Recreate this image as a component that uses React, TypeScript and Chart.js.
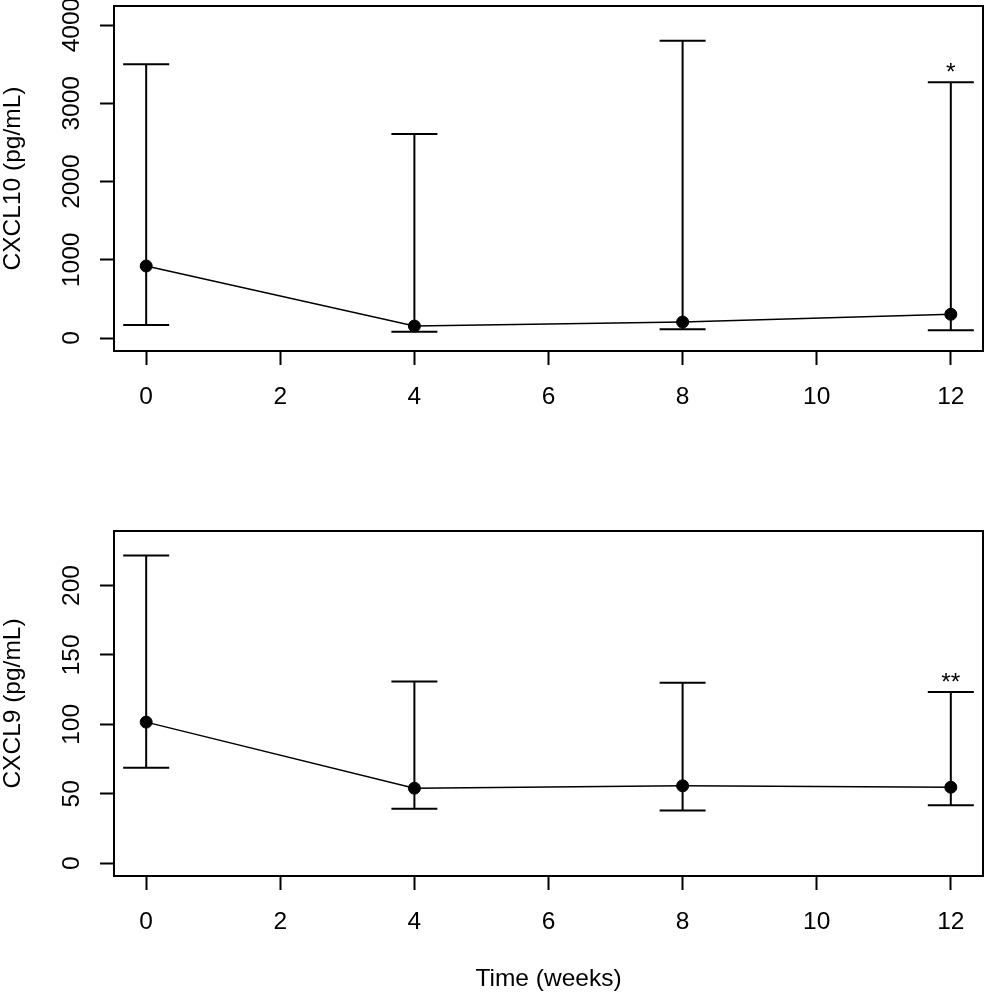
import React, { useEffect, useRef } from "react";
import { Chart, registerables } from "chart.js";

Chart.register(...registerables);

const weeks = [0, 4, 8, 12];
const xTickValues = [0, 2, 4, 6, 8, 10, 12];

const cxcl10Center = [920, 153, 204, 303];
const cxcl10Low = [166, 80, 111, 98];
const cxcl10High = [3498, 2607, 3799, 3267];
const cxcl10Marks = ["", "", "", "*"];
const cxcl10Ticks = [0, 1000, 2000, 3000, 4000];

const cxcl9Center = [101.6, 54.0, 55.7, 54.7];
const cxcl9Low = [68.7, 39.2, 38.0, 41.8];
const cxcl9High = [221.6, 130.9, 129.9, 123.2];
const cxcl9Marks = ["", "", "", "**"];
const cxcl9Ticks = [0, 50, 100, 150, 200];

const FONT = "'Liberation Sans', Arial, Helvetica, sans-serif";
const FS = 24.5;
const INK = "#000000";

const boxPlugin = {
  id: "rbox",
  afterDraw(chart: any) {
    const { ctx, chartArea } = chart;
    ctx.save();
    ctx.strokeStyle = INK;
    ctx.lineWidth = 2;
    ctx.strokeRect(chartArea.left, chartArea.top, chartArea.right - chartArea.left, chartArea.bottom - chartArea.top);
    ctx.restore();
  },
};

const yLabelPlugin = {
  id: "rylabels",
  afterDraw(chart: any, _args: any, opts: any) {
    const { ctx } = chart;
    const y = chart.scales.y;
    ctx.save();
    ctx.fillStyle = INK;
    ctx.font = `${FS}px ${FONT}`;
    ctx.textAlign = "center";
    ctx.textBaseline = "alphabetic";
    for (const t of y.ticks) {
      const py = y.getPixelForValue(t.value);
      ctx.save();
      ctx.translate(opts.x, py);
      ctx.rotate(-Math.PI / 2);
      ctx.fillText(String(t.value), 0, 0);
      ctx.restore();
    }
    ctx.restore();
  },
};

const errorBarPlugin = {
  id: "rerr",
  beforeDatasetsDraw(chart: any, _args: any, opts: any) {
    const { ctx } = chart;
    const xs = chart.scales.x;
    const ys = chart.scales.y;
    ctx.save();
    ctx.strokeStyle = INK;
    ctx.lineWidth = 2;
    const half = opts.cap;
    for (let i = 0; i < opts.x.length; i++) {
      const px = xs.getPixelForValue(opts.x[i]);
      const lo = ys.getPixelForValue(opts.low[i]);
      const hi = ys.getPixelForValue(opts.high[i]);
      ctx.beginPath();
      ctx.moveTo(px, lo);
      ctx.lineTo(px, hi);
      ctx.moveTo(px - half, lo);
      ctx.lineTo(px + half, lo);
      ctx.moveTo(px - half, hi);
      ctx.lineTo(px + half, hi);
      ctx.stroke();
    }
    ctx.restore();
  },
  afterDatasetsDraw(chart: any, _args: any, opts: any) {
    const { ctx } = chart;
    const xs = chart.scales.x;
    const ys = chart.scales.y;
    ctx.save();
    ctx.fillStyle = INK;
    ctx.font = `${FS}px ${FONT}`;
    ctx.textAlign = "center";
    ctx.textBaseline = "alphabetic";
    for (let i = 0; i < opts.x.length; i++) {
      if (!opts.marks[i]) continue;
      const px = xs.getPixelForValue(opts.x[i]);
      const hi = ys.getPixelForValue(opts.high[i]);
      ctx.fillText(opts.marks[i], px, hi + opts.markOffset);
    }
    ctx.restore();
  },
};

function makeConfig(p: {
  center: number[];
  low: number[];
  high: number[];
  marks: string[];
  yTicks: number[];
  yMin: number;
  yMax: number;
  yTitle: string;
  showXTitle: boolean;
  padTop: number;
  xAxisHeight: number;
}) {
  return {
    type: "line" as const,
    data: {
      datasets: [
        {
          data: weeks.map((w, i) => ({ x: w, y: p.center[i] })),
          borderColor: INK,
          borderWidth: 1.5,
          backgroundColor: INK,
          pointRadius: 6,
          pointBorderWidth: 1,
          pointBackgroundColor: INK,
          pointBorderColor: INK,
          tension: 0,
          fill: false,
        },
      ],
    },
    options: {
      animation: false,
      responsive: false,
      maintainAspectRatio: false,
      events: [],
      layout: { autoPadding: false, padding: { left: 0, top: p.padTop, right: 2, bottom: 0 } },
      plugins: {
        legend: { display: false },
        tooltip: { enabled: false },
        rylabels: { x: 79 },
        rerr: { x: weeks, low: p.low, high: p.high, marks: p.marks, cap: 23, markOffset: -2 },
      },
      scales: {
        x: {
          type: "linear",
          min: -0.48,
          max: 12.48,
          afterBuildTicks: (s: any) => {
            s.ticks = xTickValues.map((v) => ({ value: v }));
          },
          afterFit: (s: any) => {
            s.height = p.xAxisHeight;
            s.paddingLeft = 0;
            s.paddingRight = 0;
          },
          grid: {
            display: true,
            drawOnChartArea: false,
            drawTicks: true,
            tickLength: 14,
            tickColor: INK,
            tickWidth: 2,
            color: INK,
          },
          border: { display: false },
          ticks: {
            autoSkip: false,
            maxRotation: 0,
            minRotation: 0,
            padding: 20,
            color: INK,
            font: { family: FONT, size: FS, lineHeight: 1 },
          },
          title: {
            display: p.showXTitle,
            text: "Time (weeks)",
            color: INK,
            font: { family: FONT, size: FS, lineHeight: 1 },
            padding: { top: 0, bottom: 3.5 },
          },
        },
        y: {
          type: "linear",
          min: p.yMin,
          max: p.yMax,
          afterBuildTicks: (s: any) => {
            s.ticks = p.yTicks.map((v) => ({ value: v }));
          },
          afterFit: (s: any) => {
            s.width = 114;
            s.paddingTop = 0;
            s.paddingBottom = 0;
          },
          grid: {
            display: true,
            drawOnChartArea: false,
            drawTicks: true,
            tickLength: 14,
            tickColor: INK,
            tickWidth: 2,
            color: INK,
          },
          border: { display: false },
          ticks: { display: false },
          title: {
            display: true,
            text: p.yTitle,
            color: INK,
            font: { family: FONT, size: FS, lineHeight: 1 },
            padding: { top: 0.5, bottom: 0 },
          },
        },
      },
    },
    plugins: [errorBarPlugin, boxPlugin, yLabelPlugin],
  };
}

function Panel(props: { top: number; height: number; config: any }) {
  const ref = useRef<HTMLCanvasElement | null>(null);
  useEffect(() => {
    if (!ref.current) return;
    const chart = new Chart(ref.current, props.config);
    return () => chart.destroy();
  }, []);
  return (
    <canvas
      ref={ref}
      width={985}
      height={props.height}
      style={{ position: "absolute", left: 0, top: props.top, width: 985, height: props.height, display: "block" }}
    />
  );
}

export default function App() {
  const topCfg = makeConfig({
    center: cxcl10Center,
    low: cxcl10Low,
    high: cxcl10High,
    marks: cxcl10Marks,
    yTicks: cxcl10Ticks,
    yMin: -166,
    yMax: 4243,
    yTitle: "CXCL10 (pg/mL)",
    showXTitle: false,
    padTop: 6,
    xAxisHeight: 69,
  });
  const bottomCfg = makeConfig({
    center: cxcl9Center,
    low: cxcl9Low,
    high: cxcl9High,
    marks: cxcl9Marks,
    yTicks: cxcl9Ticks,
    yMin: -9.2,
    yMax: 239.2,
    yTitle: "CXCL9 (pg/mL)",
    showXTitle: true,
    padTop: 111,
    xAxisHeight: 119,
  });
  return (
    <div style={{ position: "absolute", left: 0, top: 0, width: 985, height: 995, background: "#ffffff", overflow: "hidden" }}>
      <Panel top={0} height={420} config={topCfg} />
      <Panel top={420} height={575} config={bottomCfg} />
    </div>
  );
}
